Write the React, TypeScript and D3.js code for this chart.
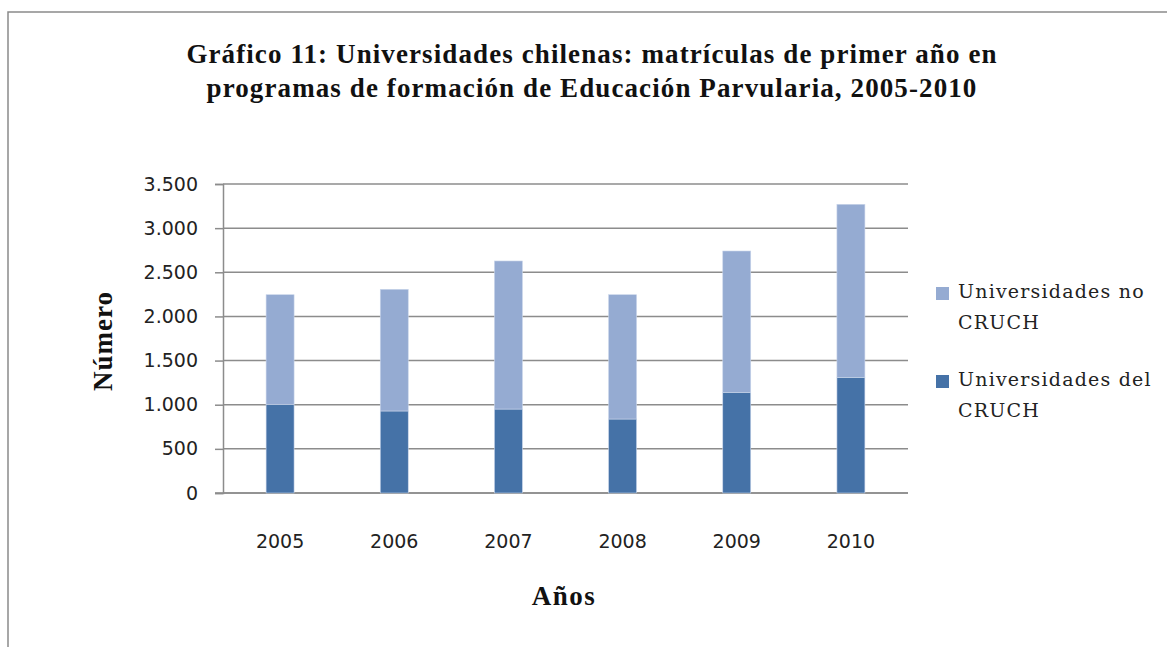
import { useEffect, useRef } from 'react'
import { select, scaleBand, scaleLinear, axisLeft, formatLocale, stack } from 'd3'

const years = ['2005', '2006', '2007', '2008', '2009', '2010']
const cruch = [1005, 929, 951, 838, 1136, 1306]
const noCruch = [1241, 1378, 1677, 1408, 1605, 1964]
const yTicks = [0, 500, 1000, 1500, 2000, 2500, 3000, 3500]
const seriesNames = ['Universidades del CRUCH', 'Universidades no CRUCH']
const titleLines = [
  'Gráfico 11: Universidades chilenas: matrículas de primer año en',
  'programas de formación de Educación Parvularia, 2005-2010'
]

function App() {
  const svg_ref = useRef<SVGSVGElement>(null)
  const width = 1167,
        height = 647
  const plot = { left: 223, right: 908, top: 184, bottom: 493 }
  const colors = ['#4572A7', '#95ABD2']

  useEffect(() => {
    const svg = select(svg_ref.current)
    svg.selectAll('*').remove()

    const locale = formatLocale({ decimal: ',', thousands: '.', grouping: [3], currency: ['$', ''] })
    const fmt = locale.format(',d')

    const x = scaleBand<string>().domain(years).range([plot.left, plot.right])
      .paddingInner(0.755).paddingOuter(0.3775)
    const y = scaleLinear().domain([0, 3500]).range([plot.bottom, plot.top])

    // frame
    svg.append('path')
      .attr('d', `M8,${height} L8,12 L${width},12`)
      .attr('fill', 'none')
      .attr('stroke', '#8a8a8a')
      .attr('stroke-width', 1.5)

    // title
    svg.append('g').selectAll('text')
      .data(titleLines)
      .join('text')
      .attr('x', 592)
      .attr('y', (d, i) => 63 + i * 34)
      .attr('text-anchor', 'middle')
      .attr('font-family', '"Liberation Serif", serif')
      .attr('font-weight', 'bold')
      .attr('font-size', 27)
      .attr('letter-spacing', 1.1)
      .attr('fill', '#111')
      .text(d => d)

    // gridlines
    svg.append('g').selectAll('line')
      .data(yTicks)
      .join('line')
      .attr('x1', plot.left)
      .attr('x2', plot.right)
      .attr('y1', d => y(d))
      .attr('y2', d => y(d))
      .attr('stroke', '#8c8c8c')
      .attr('stroke-width', 1.5)

    // y axis
    const yAxis = svg.append('g')
      .attr('transform', `translate(${plot.left},0)`)
      .call(axisLeft(y).tickValues(yTicks).tickSize(8).tickPadding(17).tickFormat(d => fmt(d as number)))
    yAxis.select('.domain').attr('stroke', '#8c8c8c').attr('stroke-width', 1.5)
    yAxis.selectAll('.tick line').attr('stroke', '#8c8c8c').attr('stroke-width', 1.5)
    yAxis.selectAll('.tick text')
      .attr('font-family', '"DejaVu Sans", sans-serif')
      .attr('font-size', 19)
      .attr('fill', '#222')

    // x axis line
    svg.append('line')
      .attr('x1', plot.left - 8)
      .attr('x2', plot.right)
      .attr('y1', y(0))
      .attr('y2', y(0))
      .attr('stroke', '#8c8c8c')
      .attr('stroke-width', 1.5)

    // stacked bars
    const rows = years.map((yr, i) => ({ year: yr, cruch: cruch[i], noCruch: noCruch[i] }))
    const layers = stack<any>().keys(['cruch', 'noCruch'])(rows)
    svg.append('g').selectAll('g')
      .data(layers)
      .join('g')
      .attr('fill', (d, i) => colors[i])
      .selectAll('rect')
      .data(d => d)
      .join('rect')
      .attr('x', d => x(d.data.year)!)
      .attr('width', x.bandwidth())
      .attr('y', d => y(d[1]))
      .attr('height', d => y(d[0]) - y(d[1]))
      .attr('stroke', '#c9d5ea')
      .attr('stroke-width', 0.6)

    // year labels
    svg.append('g').selectAll('text')
      .data(years)
      .join('text')
      .attr('x', d => x(d)! + x.bandwidth() / 2)
      .attr('y', 548)
      .attr('text-anchor', 'middle')
      .attr('font-family', '"DejaVu Sans", sans-serif')
      .attr('font-size', 19)
      .attr('fill', '#222')
      .text(d => d)

    // axis titles
    svg.append('text')
      .attr('x', 564)
      .attr('y', 605)
      .attr('text-anchor', 'middle')
      .attr('font-family', '"Liberation Serif", serif')
      .attr('font-weight', 'bold')
      .attr('font-size', 27)
      .attr('letter-spacing', 1.5)
      .attr('fill', '#111')
      .text('Años')

    svg.append('text')
      .attr('transform', 'translate(112,341) rotate(-90)')
      .attr('text-anchor', 'middle')
      .attr('font-family', '"Liberation Serif", serif')
      .attr('font-weight', 'bold')
      .attr('font-size', 27)
      .attr('letter-spacing', 1)
      .attr('fill', '#111')
      .text('Número')

    // legend (non-CRUCH first, as in the picture)
    const legendItems = [
      { lines: ['Universidades no', 'CRUCH'], color: colors[1], top: 287 },
      { lines: ['Universidades del', 'CRUCH'], color: colors[0], top: 375 }
    ]
    const lg = svg.append('g').selectAll('g')
      .data(legendItems)
      .join('g')
    lg.append('rect')
      .attr('x', 936)
      .attr('y', d => d.top)
      .attr('width', 13)
      .attr('height', 13)
      .attr('fill', d => d.color)
    lg.each(function (d) {
      select(this).selectAll('text.l')
        .data(d.lines)
        .join('text')
        .attr('class', 'l')
        .attr('x', 958)
        .attr('y', (t, i) => d.top + 11 + i * 31)
        .attr('font-family', '"DejaVu Serif", serif')
        .attr('font-size', 19)
        .attr('letter-spacing', 1.2)
        .attr('fill', '#222')
        .text(t => t)
    })
  }, [])

  return (
    <svg ref={svg_ref} width={width} height={height}
      style={{ position: 'absolute', left: 0, top: 0, background: '#fff' }}
      aria-label={seriesNames.join(', ')}>
    </svg>
  )
}

export default App
